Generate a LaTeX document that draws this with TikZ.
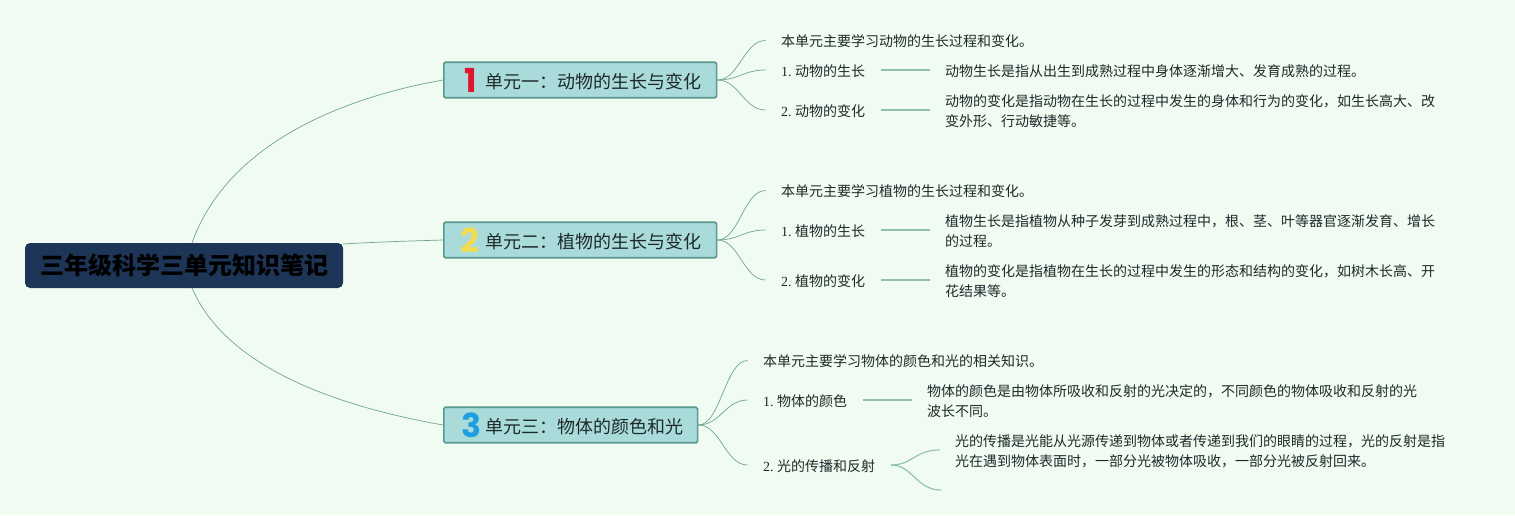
\documentclass[tikz,border=0pt]{standalone}
\usepackage{fontspec}
\setmainfont{Noto Sans CJK SC}
\newfontfamily\latinserif{Liberation Serif}
\newfontfamily\iconfont{Poppins}
\usetikzlibrary{calc}
\definecolor{bgc}{HTML}{F0FBF2}
\definecolor{rootc}{HTML}{1D3557}
\definecolor{branchc}{HTML}{A9DBDA}
\definecolor{borderc}{HTML}{5A9A8E}
\definecolor{linec}{HTML}{6FA68F}
\definecolor{lightc}{HTML}{8FC0AC}
\definecolor{inkc}{HTML}{1E2A2A}
\definecolor{oner}{HTML}{E0142C}
\definecolor{twoy}{HTML}{F2DC50}
\definecolor{threeb}{HTML}{1E9FE0}
\newcommand{\lnum}[1]{{\latinserif #1.\hspace{3.5pt}}}
\tikzset{
  x=1pt,y=-1pt,
  rootbox/.style={fill=rootc,rounded corners=5pt,minimum width=318pt,minimum height=45pt,inner sep=0pt,
    font=\fontsize{24}{28}\selectfont\bfseries,text=black},
  branchbox/.style={fill=branchc,draw=borderc,line width=1.6pt,rounded corners=1.5pt,minimum height=35.5pt,inner sep=0pt,anchor=west},
  branchtext/.style={font=\fontsize{18}{22}\selectfont,text=inkc,inner sep=0pt,anchor=west},
  icon/.style={font=\fontsize{33}{33}\iconfont\bfseries,inner sep=0pt,anchor=center},
  leaf/.style={font=\fontsize{14}{20}\selectfont,text=inkc,inner xsep=15.5pt,inner ysep=0pt,anchor=west,align=left},
  curve/.style={draw=linec,line width=0.7pt},
  thick curve/.style={draw=lightc,line width=1.1pt},
  up/.style={yshift=1pt}
}
\begin{document}
\begin{tikzpicture}
\useasboundingbox (0,0) rectangle (1515,515);
\fill[bgc] (0,0) rectangle (1515,515);

% anchors of the root's curves
\coordinate (rtop) at (192,243);
\coordinate (rbot) at (192,288);
\coordinate (rright) at (343,244);
\coordinate (endA) at (941,490);

% root
\node[rootbox] (root) at (184,265.5) {三年级科学三单元知识笔记};

% branches
\node[branchbox,minimum width=272.8pt] (b1) at (443,80) {};
\node[branchbox,minimum width=272.8pt] (b2) at (443,240) {};
\node[branchbox,minimum width=253.8pt] (b3) at (443,425) {};
\node[icon,text=oner] (i1) at (471,80) {1};
\node[icon,text=twoy] (i2) at (470,240) {2};
\node[icon,text=threeb] (i3) at (471,425) {3};
\node[branchtext] (t1) at (485,82) {单元一：动物的生长与变化};
\node[branchtext] (t2) at (485,242) {单元二：植物的生长与变化};
\node[branchtext] (t3) at (485,427) {单元三：物体的颜色和光};

% unit 1
\node[leaf] (a0) at (765.5,41.5) {本单元主要学习动物的生长过程和变化。};
\node[leaf] (a1) at (765.5,71) {\lnum{1}动物的生长};
\node[leaf] (a2) at (765.5,111) {\lnum{2}动物的变化};
\node[leaf] (a1d) at (929.5,71) {动物生长是指从出生到成熟过程中身体逐渐增大、发育成熟的过程。};
\node[leaf] (a2d) at (929.5,111) {动物的变化是指动物在生长的过程中发生的身体和行为的变化，如生长高大、改\\变外形、行动敏捷等。};

% unit 2
\node[leaf] (c0) at (765.5,191.5) {本单元主要学习植物的生长过程和变化。};
\node[leaf] (c1) at (765.5,231) {\lnum{1}植物的生长};
\node[leaf] (c2) at (765.5,281) {\lnum{2}植物的变化};
\node[leaf] (c1d) at (929.5,231) {植物生长是指植物从种子发芽到成熟过程中，根、茎、叶等器官逐渐发育、增长\\的过程。};
\node[leaf] (c2d) at (929.5,281) {植物的变化是指植物在生长的过程中发生的形态和结构的变化，如树木长高、开\\花结果等。};

% unit 3
\node[leaf] (e0) at (747.5,361.5) {本单元主要学习物体的颜色和光的相关知识。};
\node[leaf] (e1) at (747.5,401) {\lnum{1}物体的颜色};
\node[leaf] (e2) at (747.5,466) {\lnum{2}光的传播和反射};
\node[leaf] (e1d) at (911.5,401) {物体的颜色是由物体所吸收和反射的光决定的，不同颜色的物体吸收和反射的光\\波长不同。};
\node[leaf] (e2d) at (939.5,451) {光的传播是光能从光源传递到物体或者传递到我们的眼睛的过程，光的反射是指\\光在遇到物体表面时，一部分光被物体吸收，一部分光被反射回来。};

% root connectors
\draw[curve] (rtop) .. controls (225,150) and (330,100) .. (b1.west);
\draw[curve] (rright) .. controls (375,242) and (410,241) .. (b2.west);
\draw[curve] (rbot) .. controls (225,365) and (330,405) .. (b3.west);

% branch connectors
\foreach \b/\n in {b1/a0,b1/a1,b1/a2,b2/c0,b2/c1,b2/c2,b3/e0,b3/e1,b3/e2}{
  \coordinate (p) at ([up]\n.west);
  \draw[curve] (\b.east) .. controls ($(\b.east)!0.45!(p |- \b.east)$) and ($(p)!0.45!(\b.east |- p)$) .. (p);
}

% detail connectors
\draw[thick curve] ([up]a1.east) -- ([up]a1d.west);
\draw[thick curve] ([up]a2.east) -- ([up]a2d.west);
\draw[thick curve] ([up]c1.east) -- ([up]c1d.west);
\draw[thick curve] ([up]c2.east) -- ([up]c2d.west);
\draw[thick curve] ([up]e1.east) -- ([up]e1d.west);
\coordinate (e2s) at ([up]e2.east);
\coordinate (e2t) at ([up]e2d.west);
\draw[thick curve] (e2s) .. controls ($(e2s)+(22,0)$) and ($(e2t)+(-25,0)$) .. (e2t);
\draw[thick curve] (e2s) .. controls ($(e2s)+(22,0)$) and ($(endA)+(-25,0)$) .. (endA);
\end{tikzpicture}
\end{document}
